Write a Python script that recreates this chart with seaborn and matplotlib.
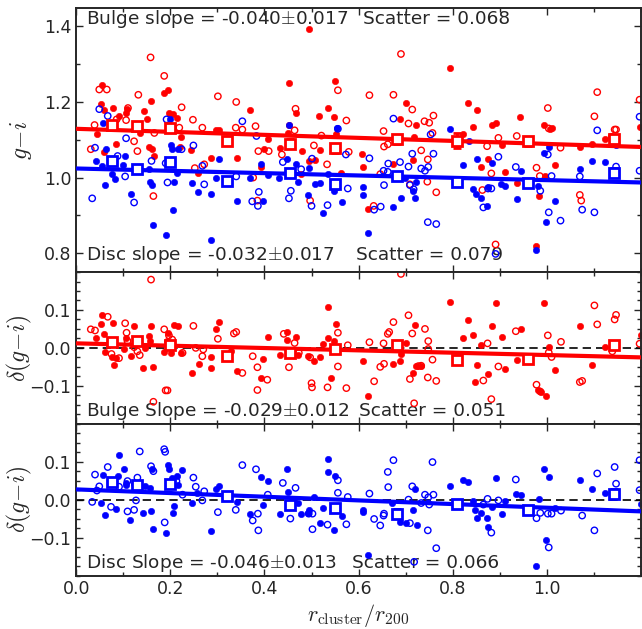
import numpy as np
import pandas as pd
import matplotlib
matplotlib.use("Agg")
import matplotlib.pyplot as plt
from matplotlib.ticker import MultipleLocator, FixedLocator
import seaborn as sns

# ---------------- data: top panel (g-i colour) ----------------
bulge_fill_top_x = [0.055,0.053,0.060,0.079,0.044,0.060,0.084,0.090,0.106,0.108,0.125,0.136,0.144,0.159,0.151,0.155,0.161,0.166,
    0.187,0.196,0.197,0.206,0.215,0.220,0.223,0.243,0.259,0.287,0.298,0.303,0.342,0.370,0.393,0.399,0.407,0.434,0.452,0.452,
    0.450,0.466,0.480,0.478,0.494,0.507,0.515,0.519,0.536,0.548,0.550,0.552,0.563,
    0.608,0.610,0.620,0.674,0.688,0.700,0.723,0.715,0.718,0.833,0.842,0.851,0.860,0.875,0.884,0.892,0.904,0.911,0.943,0.937,
    0.994,1.006,1.010,0.997,1.018,0.983,1.070,1.096,1.124,1.137,1.197,0.976,0.795,0.822,0.495]
bulge_fill_top_y = [1.246,1.194,1.180,1.184,1.114,1.068,1.088,1.162,1.171,1.182,1.140,1.118,1.175,1.202,1.154,1.081,1.075,1.057,
    1.224,1.232,1.171,1.167,1.158,1.082,1.108,1.072,1.013,1.053,1.127,1.125,1.051,1.180,1.029,1.075,1.101,1.079,1.250,1.140,
    1.118,1.171,1.070,1.009,1.044,1.046,1.162,1.073,1.184,1.161,1.256,1.114,1.013,
    1.063,1.029,0.917,1.035,1.154,1.197,1.140,1.046,1.108,1.196,1.134,1.180,1.029,1.048,1.139,1.145,1.085,1.015,1.161,0.985,
    1.140,1.129,1.132,1.003,1.033,0.950,1.082,1.090,1.101,1.110,1.134,0.818,1.290,1.114,1.392]

bulge_open_top_x = [0.031,0.039,0.049,0.065,0.086,0.106,0.110,0.123,0.132,0.130,0.164,0.166,0.187,0.224,0.219,0.248,0.252,
    0.268,0.272,0.301,0.321,0.340,0.339,0.353,0.376,0.381,0.385,0.387,0.409,0.437,0.464,0.466,0.497,0.505,0.521,0.533,0.556,
    0.574,0.579,0.158,
    0.623,0.674,0.714,0.706,0.740,0.750,0.759,0.757,0.653,0.654,0.662,0.733,0.747,0.765,0.709,0.632,0.646,0.746,0.873,0.897,
    0.882,0.863,0.936,1.002,1.004,0.978,0.985,1.029,1.070,1.073,1.101,1.107,1.144,1.147,1.197,0.891,0.690]
bulge_open_top_y = [1.075,1.139,1.233,1.233,1.154,1.152,1.184,1.096,1.219,1.070,0.951,1.118,1.269,1.186,1.132,1.153,1.025,
    1.132,1.035,1.215,1.101,1.200,1.132,1.127,1.000,1.136,0.939,1.070,1.070,1.061,1.125,1.182,0.939,1.085,1.111,1.035,1.231,
    1.151,1.068,1.318,
    1.218,1.219,1.180,1.143,1.149,1.145,1.164,1.118,1.123,1.082,1.088,1.072,1.048,0.961,0.982,0.925,1.009,0.989,1.083,1.105,
    1.011,0.967,1.110,1.184,1.130,1.026,1.004,1.079,0.954,0.939,1.162,1.226,1.127,1.127,1.206,0.823,1.327]

disc_fill_top_x = [0.042,0.055,0.061,0.063,0.057,0.077,0.083,0.103,0.099,0.116,0.154,0.157,0.161,0.164,0.190,0.199,0.201,
    0.204,0.216,0.207,0.205,0.215,0.245,0.259,0.286,0.286,0.296,0.303,0.342,0.370,0.392,0.397,0.407,0.430,0.448,0.452,0.468,
    0.471,0.494,0.493,0.508,0.519,0.524,0.536,0.547,0.554,0.564,
    0.610,0.610,0.620,0.674,0.690,0.699,0.715,0.720,0.723,0.795,0.822,0.834,0.842,0.851,0.849,0.860,0.873,0.884,0.875,0.902,
    0.911,0.937,0.944,0.981,0.994,1.004,0.999,1.018,1.070,1.096,1.124,1.146,0.976]
disc_fill_top_y = [1.044,1.031,0.981,1.075,1.145,1.009,0.996,1.057,1.032,0.956,1.022,0.987,0.980,0.875,0.849,1.154,1.085,
    1.076,1.075,0.987,0.915,1.013,0.985,0.962,0.956,0.835,1.000,1.050,0.937,1.000,1.035,0.939,1.006,1.000,1.050,1.140,1.037,
    0.987,1.026,0.954,0.982,0.985,0.906,1.009,0.965,1.132,0.934,
    0.974,0.953,0.853,0.921,0.947,1.000,0.965,0.947,0.989,1.129,1.033,1.096,0.969,1.048,0.956,0.947,0.925,1.039,0.974,0.982,
    0.978,0.943,1.018,0.978,1.064,1.082,0.882,0.939,1.022,1.044,1.041,1.085,0.807]

disc_open_top_x = [0.034,0.040,0.049,0.088,0.067,0.106,0.104,0.123,0.160,0.192,0.190,0.194,0.224,0.249,0.268,0.272,0.340,
    0.353,0.383,0.374,0.386,0.388,0.439,0.452,0.456,0.478,0.501,0.500,0.534,0.556,0.573,0.577,
    0.623,0.653,0.663,0.662,0.654,0.633,0.647,0.688,0.706,0.714,0.717,0.733,0.741,0.748,0.759,0.747,0.765,0.753,0.674,0.709,
    0.865,0.875,0.882,0.897,0.934,1.002,1.010,1.004,1.029,0.986,1.070,1.075,1.101,1.107,1.147,1.197,1.197,0.891]
disc_open_top_y = [0.945,1.079,1.181,1.057,1.163,1.104,1.003,0.934,1.044,1.154,1.038,0.987,1.075,1.085,1.031,0.982,1.003,
    1.149,1.110,0.937,0.925,0.962,1.041,0.945,0.965,1.022,1.050,0.925,0.927,1.129,1.061,0.971,
    1.051,1.018,1.037,1.015,0.980,0.915,0.923,1.041,1.029,1.063,0.969,1.024,1.018,1.028,1.063,0.882,0.877,1.114,1.156,0.980,
    0.921,0.971,0.971,1.055,1.028,1.061,1.004,0.908,0.886,0.965,1.003,0.915,0.908,1.125,1.029,1.161,1.018,0.798]

# ---------------- data: residual panels ----------------
bulge_fill_res_x = [0.055,0.079,0.053,0.060,0.042,0.061,0.077,0.084,0.081,0.102,0.106,0.123,0.116,0.142,0.147,0.159,0.154,
    0.156,0.164,0.187,0.192,0.196,0.207,0.202,0.217,0.222,0.245,0.260,0.287,0.287,0.296,0.303,0.328,0.342,0.393,0.397,0.407,
    0.432,0.448,0.448,0.467,0.471,0.493,0.506,0.519,0.524,0.534,0.536,0.542,0.552,0.548,
    0.610,0.620,0.674,0.688,0.690,0.701,0.720,0.715,0.723,0.733,0.795,0.822,0.833,0.842,0.847,0.851,0.860,0.875,0.884,0.892,
    0.904,0.911,0.936,0.944,0.981,0.988,0.999,0.994,1.004,1.018,1.070,1.096,1.124,1.199]
bulge_fill_res_y = [0.087,0.066,0.062,0.037,0.025,-0.012,-0.025,-0.027,-0.044,-0.004,0.027,0.058,-0.022,-0.053,0.000,0.058,
    0.031,0.018,-0.050,-0.011,0.018,0.040,0.060,-0.013,0.058,-0.013,-0.066,-0.042,-0.025,-0.053,0.049,0.069,-0.007,-0.060,
    -0.080,-0.029,0.029,-0.018,0.042,0.020,0.028,-0.018,-0.022,-0.035,-0.025,0.011,0.027,0.108,-0.080,0.064,0.018,
    -0.035,-0.126,-0.042,-0.034,-0.016,0.012,0.060,-0.065,-0.049,-0.049,0.121,0.025,0.073,0.033,-0.090,-0.046,0.007,-0.068,
    0.059,0.119,0.028,-0.056,-0.031,0.051,-0.112,-0.115,-0.128,0.119,0.003,-0.058,0.058,-0.044,0.002,0.035]

bulge_open_res_x = [0.031,0.040,0.067,0.075,0.091,0.104,0.107,0.109,0.123,0.130,0.135,0.159,0.164,0.187,0.190,0.194,0.197,
    0.204,0.226,0.249,0.254,0.270,0.268,0.301,0.335,0.340,0.353,0.375,0.385,0.385,0.406,0.441,0.452,0.464,0.473,0.497,0.500,
    0.501,0.534,0.556,0.556,0.574,0.577,
    0.623,0.633,0.646,0.654,0.653,0.662,0.665,0.674,0.706,0.709,0.714,0.718,0.727,0.733,0.741,0.748,0.748,0.757,0.747,0.765,
    0.690,0.865,0.874,0.882,0.897,0.934,0.978,0.986,1.002,1.004,1.010,1.030,1.070,1.075,1.101,1.107,1.144,1.147,1.139,1.197]
bulge_open_res_y = [0.049,0.046,0.082,-0.016,-0.027,0.065,0.040,0.018,0.002,-0.009,-0.019,0.180,-0.142,0.049,-0.112,-0.112,
    0.033,0.022,-0.013,0.058,0.000,-0.004,-0.022,0.024,0.038,0.042,-0.066,-0.022,-0.051,-0.111,-0.084,0.037,-0.051,0.013,
    -0.013,-0.025,-0.093,-0.104,-0.104,0.040,-0.049,-0.106,0.007,
    0.015,-0.088,-0.050,-0.042,0.012,0.037,0.042,0.068,0.086,-0.082,0.038,-0.146,-0.048,-0.047,0.050,0.018,-0.003,-0.031,
    -0.078,-0.087,0.195,-0.086,0.012,-0.135,-0.049,0.044,-0.097,-0.115,0.033,-0.012,-0.024,0.016,-0.090,-0.087,0.112,0.062,
    0.075,0.087,-0.009,0.011]

disc_fill_res_x = [0.056,0.061,0.053,0.090,0.084,0.088,0.102,0.106,0.106,0.115,0.122,0.142,0.147,0.156,0.159,0.161,0.164,
    0.190,0.196,0.197,0.203,0.207,0.206,0.215,0.217,0.224,0.245,0.257,0.287,0.296,0.303,0.342,0.370,0.393,0.397,0.407,0.432,
    0.448,0.450,0.471,0.478,0.493,0.495,0.506,0.519,0.524,0.534,0.536,0.548,0.550,0.565,
    0.610,0.610,0.620,0.672,0.688,0.701,0.715,0.720,0.724,0.795,0.822,0.833,0.842,0.847,0.851,0.861,0.873,0.875,0.884,0.892,
    0.904,0.911,0.934,0.944,0.983,0.976,0.994,0.999,1.004,1.018,1.070,1.096,1.124,1.199]
disc_fill_res_y = [0.065,-0.040,-0.009,0.117,-0.025,0.062,0.081,0.044,0.038,-0.055,0.040,-0.035,0.035,0.031,-0.031,0.080,
    -0.078,-0.087,0.090,0.082,0.058,-0.018,-0.035,0.062,0.038,0.077,-0.009,0.018,-0.084,0.027,0.037,-0.007,-0.038,0.059,
    -0.013,0.050,-0.038,0.082,0.020,-0.009,-0.038,-0.034,-0.028,0.007,-0.062,-0.022,0.106,0.073,-0.081,0.062,-0.042,
    -0.027,-0.033,-0.146,-0.009,-0.060,-0.062,-0.028,0.027,-0.066,0.037,0.053,0.047,-0.004,-0.028,-0.049,-0.035,-0.049,
    -0.073,-0.019,0.058,-0.037,-0.004,0.016,0.011,0.002,-0.174,0.080,-0.106,0.059,-0.022,0.053,0.029,0.018,-0.011]

disc_open_res_x = [0.034,0.040,0.044,0.049,0.067,0.074,0.091,0.109,0.109,0.123,0.127,0.130,0.135,0.159,0.164,0.187,0.189,
    0.188,0.213,0.226,0.249,0.254,0.268,0.272,0.301,0.339,0.353,0.375,0.382,0.386,0.387,0.407,0.439,0.455,0.466,0.494,0.502,
    0.502,0.534,0.556,0.556,0.574,0.577,
    0.623,0.633,0.646,0.654,0.653,0.662,0.663,0.674,0.706,0.709,0.714,0.733,0.741,0.748,0.750,0.759,0.747,0.765,0.757,0.718,
    0.865,0.874,0.882,0.897,0.934,0.978,0.986,1.002,1.010,1.004,1.030,1.075,1.101,1.107,1.144,1.147,1.197,1.197]
disc_open_res_y = [-0.006,0.066,0.024,0.035,0.086,-0.019,0.034,0.049,-0.031,-0.027,-0.002,0.058,0.127,0.088,0.075,0.133,
    0.126,-0.060,0.049,0.013,0.058,0.034,-0.002,0.022,-0.033,-0.027,0.091,-0.055,0.080,-0.037,-0.081,0.013,0.044,-0.050,
    0.031,-0.037,-0.078,-0.037,-0.066,0.051,0.018,-0.065,0.007,
    0.016,-0.051,-0.068,-0.037,-0.042,0.073,0.033,0.104,0.000,-0.062,0.035,-0.009,0.013,0.006,-0.013,0.013,-0.081,-0.128,
    0.099,-0.164,-0.013,0.002,-0.087,-0.002,0.053,-0.049,-0.035,-0.037,-0.037,-0.126,-0.029,-0.042,-0.081,0.069,0.086,0.042,
    0.104,0.025]

# ---------------- binned medians ----------------
bin_x = [0.076,0.130,0.200,0.320,0.454,0.549,0.682,0.809,0.960,1.142]
bulge_bin_top = [1.139,1.136,1.130,1.096,1.089,1.077,1.101,1.098,1.096,1.101]
bulge_bin_top_err = [0.008,0.008,0.009,0.010,0.012,0.012,0.012,0.020,0.012,0.012]
disc_bin_top = [1.044,1.022,1.042,0.991,1.013,0.982,1.003,0.989,0.985,1.013]
disc_bin_top_err = [0.008,0.008,0.009,0.010,0.010,0.011,0.010,0.010,0.011,0.012]
bulge_bin_res = [0.016,0.018,0.007,-0.022,-0.013,-0.004,0.007,-0.031,-0.028,0.007]
bulge_bin_res_err = [0.007,0.007,0.008,0.009,0.009,0.010,0.010,0.010,0.010,0.011]
disc_bin_res = [0.046,0.038,0.040,0.009,-0.013,-0.022,-0.037,-0.011,-0.028,0.015]
disc_bin_res_err = [0.008,0.008,0.009,0.009,0.010,0.010,0.011,0.010,0.011,0.012]

# ---------------- linear fits (end points) ----------------
fit_x = [0.0, 1.2]
bulge_fit_top = [1.129, 1.081]
disc_fit_top = [1.024, 0.987]
bulge_fit_res = [0.012, -0.025]
disc_fit_res = [0.027, -0.031]

# ---------------- labels ----------------
x_major_ticks = [0.0, 0.2, 0.4, 0.6, 0.8, 1.0]
txt_top_bulge = ["Bulge slope = -0.040$\\pm$0.017", "Scatter = 0.068"]
txt_top_disc = ["Disc slope = -0.032$\\pm$0.017", "Scatter = 0.079"]
txt_mid = ["Bulge Slope = -0.029$\\pm$0.012", "Scatter = 0.051"]
txt_bot = ["Disc Slope = -0.046$\\pm$0.013", "Scatter = 0.066"]

RED = "#ff0000"
BLUE = "#0000ff"

sns.set_style("ticks")
plt.rcParams["font.family"] = ["DejaVu Sans"]
plt.rcParams["mathtext.fontset"] = "cm"
plt.rcParams["axes.linewidth"] = 1.4

fig = plt.figure(figsize=(6.42, 6.29), dpi=100)
gs = fig.add_gridspec(3, 1, height_ratios=[265, 152, 152], hspace=0,
                      left=76.2/642, right=641.0/642, top=1-7.5/629, bottom=1-575.5/629)
ax0 = fig.add_subplot(gs[0])
ax1 = fig.add_subplot(gs[1], sharex=ax0)
ax2 = fig.add_subplot(gs[2], sharex=ax0)

S = 21

def pts(ax, x, y, color, filled):
    if filled:
        sns.scatterplot(x=x, y=y, ax=ax, color=color, edgecolor=color, s=S, linewidth=0.4, zorder=2, legend=False)
    else:
        sns.scatterplot(x=x, y=y, ax=ax, color=color, facecolor="none", edgecolor=color, s=S, linewidth=1.0,
                        zorder=2, legend=False)

def fitline(ax, y, color):
    sns.lineplot(x=fit_x, y=y, ax=ax, color=color, lw=3.0, zorder=3, legend=False)

def bins(ax, y, err, color):
    ax.errorbar(bin_x, y, yerr=err, fmt="s", ms=6.5, mew=2.0, mfc="white", mec=color, ecolor=color,
                elinewidth=2.0, capsize=3, capthick=2.0, zorder=4)

# top panel
pts(ax0, bulge_open_top_x, bulge_open_top_y, RED, False)
pts(ax0, bulge_fill_top_x, bulge_fill_top_y, RED, True)
pts(ax0, disc_open_top_x, disc_open_top_y, BLUE, False)
pts(ax0, disc_fill_top_x, disc_fill_top_y, BLUE, True)
fitline(ax0, bulge_fit_top, RED)
fitline(ax0, disc_fit_top, BLUE)
bins(ax0, bulge_bin_top, bulge_bin_top_err, RED)
bins(ax0, disc_bin_top, disc_bin_top_err, BLUE)

# middle panel
ax1.axhline(0.0, color="black", ls="--", lw=1.2, dashes=(5, 3), zorder=1.5)
pts(ax1, bulge_open_res_x, bulge_open_res_y, RED, False)
pts(ax1, bulge_fill_res_x, bulge_fill_res_y, RED, True)
fitline(ax1, bulge_fit_res, RED)
bins(ax1, bulge_bin_res, bulge_bin_res_err, RED)

# bottom panel
ax2.axhline(0.0, color="black", ls="--", lw=1.2, dashes=(5, 3), zorder=1.5)
pts(ax2, disc_open_res_x, disc_open_res_y, BLUE, False)
pts(ax2, disc_fill_res_x, disc_fill_res_y, BLUE, True)
fitline(ax2, disc_fit_res, BLUE)
bins(ax2, disc_bin_res, disc_bin_res_err, BLUE)

FS = 13.3
def ann(ax, pair, x2, y):
    ax.text(0.0175, y, pair[0], transform=ax.transAxes, fontsize=FS, va="baseline", ha="left", zorder=1)
    ax.text(x2, y, pair[1], transform=ax.transAxes, fontsize=FS, va="baseline", ha="left", zorder=1)

ann(ax0, txt_top_bulge, 0.508, 0.937)
ann(ax0, txt_top_disc, 0.495, 0.044)
ann(ax1, txt_mid, 0.501, 0.050)
ann(ax2, txt_bot, 0.488, 0.048)

for ax in (ax0, ax1, ax2):
    ax.set_xlim(0.0, 1.2)
    ax.xaxis.set_major_locator(FixedLocator(x_major_ticks))
    ax.xaxis.set_minor_locator(MultipleLocator(0.1))
    ax.tick_params(which="both", direction="in", top=True, right=True, labelsize=12.5)
    ax.tick_params(which="major", length=5, width=1.0)
    ax.tick_params(which="minor", length=3, width=1.0)
    ax.set_xlabel("")

ax0.set_ylim(0.75, 1.45)
ax0.yaxis.set_major_locator(FixedLocator([0.8, 1.0, 1.2, 1.4]))
ax0.yaxis.set_minor_locator(MultipleLocator(0.1))
for ax in (ax1, ax2):
    ax.set_ylim(-0.2, 0.2)
    ax.yaxis.set_major_locator(FixedLocator([-0.1, 0.0, 0.1]))
    ax.yaxis.set_minor_locator(MultipleLocator(0.025))

ax0.tick_params(labelbottom=False)
ax1.tick_params(labelbottom=False)

ax0.set_ylabel("$g\\!-\\!i$", fontsize=17)
ax1.set_ylabel("$\\delta(g\\!-\\!i)$", fontsize=17)
ax2.set_ylabel("$\\delta(g\\!-\\!i)$", fontsize=17)
for ax in (ax0, ax1, ax2):
    ax.yaxis.set_label_coords(-0.075, 0.5)
ax2.set_xlabel("$r_{\\rm cluster}/r_{200}$", fontsize=16)
ax2.xaxis.set_label_coords(0.5, -0.175)

fig.savefig("out.png", dpi=100, facecolor="white")
